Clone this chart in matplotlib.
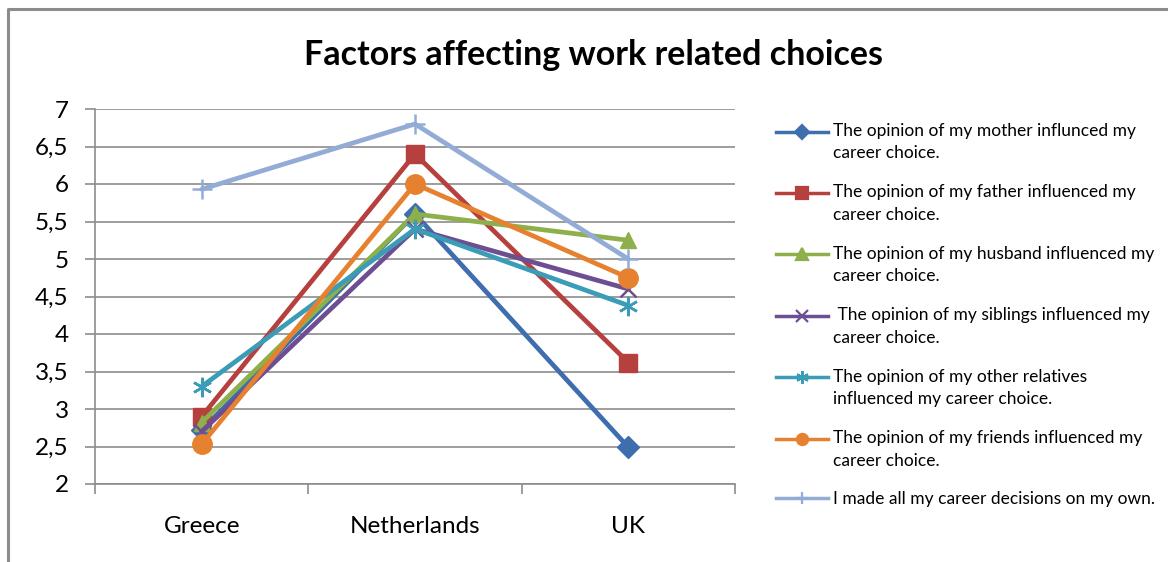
import matplotlib
matplotlib.use("Agg")
import matplotlib.pyplot as plt
from matplotlib.lines import Line2D
from matplotlib.legend_handler import HandlerLine2D
from matplotlib.ticker import MultipleLocator, FuncFormatter

plt.rcParams['font.family'] = ['Lato', 'DejaVu Sans']

countries = ["Greece", "Netherlands", "UK"]

labels = [
    "The opinion of my mother influnced my\ncareer choice.",
    "The opinion of my father influenced my\ncareer choice.",
    "The opinion of my husband influenced my\ncareer choice.",
    " The opinion of my siblings influenced my\ncareer choice.",
    "The opinion of my other relatives\ninfluenced my career choice.",
    "The opinion of my friends influenced my\ncareer choice.",
    "I made all my career decisions on my own.",
]

mother = [2.72, 5.60, 2.49]
father = [2.90, 6.40, 3.62]
husband = [2.82, 5.60, 5.25]
siblings = [2.70, 5.40, 4.60]
other_relatives = [3.30, 5.40, 4.38]
friends = [2.53, 6.00, 4.75]
own_decisions = [5.93, 6.80, 5.00]

series = [mother, father, husband, siblings, other_relatives, friends, own_decisions]
colors = ["#3F6EAE", "#B5403E", "#8DB04A", "#6D4E92", "#3A9CB6", "#E6822F", "#93ACD6"]
markers = ["D", "s", "^", "x", "*", "o", "+"]
msizes = [11, 13, 12, 11, 14, 14, 14]
legend_msizes = [7, 8, 8, 8, 9, 8, 9]

open_marks = {"x": "x", "+": "+", "*": (6, 2, 0)}


class FirstLineHandler(HandlerLine2D):
    """Line handle aligned with the first line of a two-line label."""

    def __init__(self, shift=0.0, **kw):
        super().__init__(**kw)
        self.shift = shift

    def create_artists(self, legend, orig_handle, xdescent, ydescent,
                       width, height, fontsize, trans):
        arts = super().create_artists(legend, orig_handle, xdescent, ydescent,
                                      width, height, fontsize, trans)
        for a in arts:
            a.set_ydata([y + self.shift for y in a.get_ydata()])
        return arts


fig = plt.figure(figsize=(11.68, 5.62), dpi=100)
ax = fig.add_axes([95 / 1168, 1 - 484 / 562, 640 / 1168, 375 / 562])

grid_c = "#8C8C8C"
x = list(range(len(countries)))
for vals, c, m, ms in zip(series, colors, markers, msizes):
    if m in open_marks:
        ax.plot(x, vals, color=c, lw=3.4, marker=open_marks[m], ms=ms, mew=1.8,
                mec=c, mfc="none", solid_capstyle="round", zorder=3)
    else:
        ax.plot(x, vals, color=c, lw=3.4, marker=m, ms=ms, mec=c, mfc=c,
                solid_capstyle="round", zorder=3)

ax.set_xlim(-0.5, 2.5)
ax.set_ylim(2, 7)
ax.yaxis.set_major_locator(MultipleLocator(0.5))
ax.yaxis.set_major_formatter(FuncFormatter(lambda v, p: (f"{v:g}").replace(".", ",")))
ax.set_xticks(x)
ax.set_xticklabels(countries)
ax.set_xticks([-0.5, 0.5, 1.5, 2.5], minor=True)
ax.tick_params(axis="x", which="major", length=0, pad=23, labelsize=17.5)
ax.tick_params(axis="x", which="minor", length=7, width=1.2, color=grid_c, direction="out")
ax.tick_params(axis="y", length=7, width=1.2, color=grid_c, direction="out", pad=12, labelsize=17.5)
ax.grid(axis="y", color=grid_c, lw=1.2, zorder=0)
for s in ("top", "right"):
    ax.spines[s].set_visible(False)
for s in ("left", "bottom"):
    ax.spines[s].set_color(grid_c)
    ax.spines[s].set_linewidth(1.2)

fig.text(593 / 1168, 1 - 55 / 562, "Factors affecting work related choices",
         ha="center", va="center", fontsize=24.5, fontweight="bold")

handles = []
handler_map = {}
for c, m, ms, lab in zip(colors, markers, legend_msizes, labels):
    mk = open_marks.get(m, m)
    h = Line2D([], [], color=c, lw=2.5, marker=mk, ms=ms, mec=c,
               mfc="none" if m in open_marks else c, mew=1.6)
    handles.append(h)
    handler_map[h] = FirstLineHandler(shift=8.0 if "\n" in lab else 0.0)

leg = fig.legend(handles, labels, handler_map=handler_map, loc="upper left",
                 bbox_to_anchor=(769 / 1168, 1 - 116 / 562),
                 frameon=False, fontsize=12.5, handlelength=3.0, handletextpad=0.3,
                 labelspacing=1.32, borderaxespad=0)
for t in leg.get_texts():
    t.set_linespacing(1.5)

# outer frame
fig.add_artist(Line2D([8 / 1168, 8 / 1168, 1.0], [0, 1 - 9 / 562, 1 - 9 / 562],
                      transform=fig.transFigure, color="#8C8C8C", lw=2.2))

fig.savefig("out.png", dpi=100)
